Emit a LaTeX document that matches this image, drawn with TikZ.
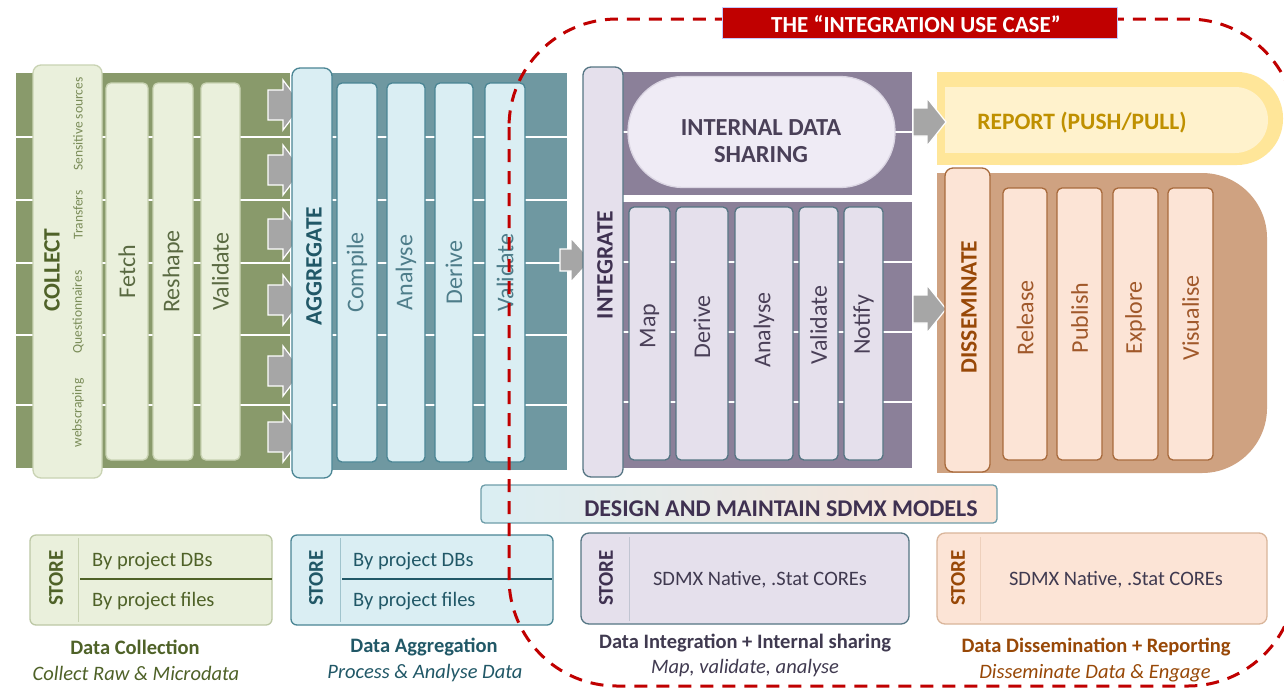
\documentclass[tikz,border=0pt]{standalone}
\usepackage{fontspec}
\setmainfont{Carlito}
\definecolor{gband}{HTML}{899A6B}
\definecolor{gfill}{HTML}{EAF0DC}
\definecolor{gline}{HTML}{C9D3B3}
\definecolor{gtext}{HTML}{4F6228}
\definecolor{gtext2}{HTML}{5A6A42}
\definecolor{gsmall}{HTML}{7A8C58}
\definecolor{tband}{HTML}{6F98A1}
\definecolor{tfill}{HTML}{DAEEF3}
\definecolor{tline}{HTML}{4A8594}
\definecolor{ttext}{HTML}{215867}
\definecolor{ttext2}{HTML}{4E7D8A}
\definecolor{pband}{HTML}{8B8099}
\definecolor{pfill}{HTML}{E5E0EC}
\definecolor{pillc}{HTML}{EFEBF5}
\definecolor{pline}{HTML}{557583}
\definecolor{ptext}{HTML}{3F3151}
\definecolor{ptext2}{HTML}{4A4058}
\definecolor{bband}{HTML}{CFA281}
\definecolor{bfill}{HTML}{FCE4D6}
\definecolor{bline}{HTML}{A86A3C}
\definecolor{btext}{HTML}{984807}
\definecolor{btext2}{HTML}{A0582A}
\definecolor{yout}{HTML}{FFE699}
\definecolor{yin}{HTML}{FFF2CC}
\definecolor{ytext}{HTML}{BF9000}
\definecolor{agray}{HTML}{A6A6A6}
\definecolor{redc}{HTML}{C00000}
\definecolor{dgray}{HTML}{403A50}
\newcommand\myfs[1]{\fontsize{#1}{#1}\selectfont}
\newcommand\garrow[6]{%
  \path[fill=agray, draw=white, line width=1.2pt, line join=miter]
    (#1,#4-#5) -- (#2,#4-#5) -- (#2,#4-#6) -- (#3,#4) -- (#2,#4+#6)
    -- (#2,#4+#5) -- (#1,#4+#5) -- cycle;}
\tikzset{
  bx/.style={rectangle, inner sep=0pt, outer sep=0pt, line width=1.3pt},
  lbl/.style={bx, rounded corners=8pt},
  colbox/.style={bx, rounded corners=5pt},
  vt/.style={rotate=90, inner sep=0pt, font=\myfs{24}},
  vb/.style={rotate=90, inner sep=0pt, font=\bfseries\myfs{23.5}},
  captxt/.style={inner sep=0pt, font=\bfseries\myfs{20.5}},
  capital/.style={inner sep=0pt, font=\itshape\myfs{20.5}},
  stt/.style={inner sep=0pt, font=\myfs{20.5}},
}
\begin{document}
\begin{tikzpicture}[x=1pt,y=-1pt]
\useasboundingbox (0,0) rectangle (1284,689);
\fill[white] (0,0) rectangle (1284,689);

% ---------- bands ----------
\fill[gband] (16,73) rectangle (290,468);
\fill[tband] (325,73) rectangle (567,470);
\fill[pband] (620,72) rectangle (912,195);
\fill[pband] (620,202) rectangle (912,468);
\fill[bband, rounded corners=65pt] (1000,173) -- (1267,173) -- (1267,473) -- (1000,473);
\fill[bband] (937,173) rectangle (1010,473);
\fill[yout, rounded corners=46pt] (1000,72) -- (1283,72) -- (1283,165) -- (1000,165);
\fill[yout] (937,72) rectangle (1010,165);
\fill[yin, rounded corners=33pt] (1000,87) -- (1268,87) -- (1268,153) -- (1000,153);
\fill[yin] (945,87) rectangle (1010,153);

% white separators
\foreach \yy in {137,200,263,335,405}{\draw[white, line width=2.6pt] (16,\yy) -- (567,\yy);}
\foreach \yy in {262,332,402}{\draw[white, line width=2.6pt] (620,\yy) -- (912,\yy);}
\draw[white, line width=2.6pt] (620,132) -- (912,132);

% ---------- COLLECT ----------
\node[lbl, fill=gfill, draw=gline, minimum width=69pt, minimum height=413pt] (collect) at (67.5,271.5) {};
\node[colbox, fill=gfill, draw=gline, minimum width=42pt, minimum height=377pt] (fetch) at (127,271.5) {};
\node[colbox, fill=gfill, draw=gline, minimum width=40pt, minimum height=377pt] (reshape) at (173,271.5) {};
\node[colbox, fill=gfill, draw=gline, minimum width=39pt, minimum height=377pt] (cvalidate) at (220.5,271.5) {};
\node[vb, text=gtext] (tcollect) at (52,270) {COLLECT};
\node[rotate=90, inner sep=0pt, font=\myfs{13.5}, text=gsmall] (tsens) at (78,124) {Sensitive sources};
\node[rotate=90, inner sep=0pt, font=\myfs{13.5}, text=gsmall] (ttrans) at (78,215) {Transfers};
\node[rotate=90, inner sep=0pt, font=\myfs{13.5}, text=gsmall] (tquest) at (78,312) {Questionnaires};
\node[rotate=90, inner sep=0pt, font=\myfs{13.5}, text=gsmall] (twebs) at (78,413) {webscraping};
\node[vt, text=gtext2] (tfetch) at (fetch) {Fetch};
\node[vt, text=gtext2] (treshape) at (reshape) {Reshape};
\node[vt, text=gtext2] (tcvalidate) at (cvalidate) {Validate};

% arrows collect -> aggregate
\foreach \yy in {105,170,234,300,371,437}{\garrow{268}{283}{302}{\yy}{15}{25}}

% ---------- AGGREGATE ----------
\node[lbl, fill=tfill, draw=tline, minimum width=40pt, minimum height=410pt] (aggregate) at (312,273) {};
\node[colbox, fill=tfill, draw=tline, minimum width=40pt, minimum height=379pt] (compile) at (357,272.5) {};
\node[colbox, fill=tfill, draw=tline, minimum width=38pt, minimum height=379pt] (aanalyse) at (406,272.5) {};
\node[colbox, fill=tfill, draw=tline, minimum width=38pt, minimum height=379pt] (aderive) at (454,272.5) {};
\node[colbox, fill=tfill, draw=tline, minimum width=40pt, minimum height=379pt] (avalidate) at (505,272.5) {};
\node[vb, text=ttext] (taggregate) at (314,266) {AGGREGATE};
\node[vt, text=ttext2] (tcompile) at (compile) {Compile};
\node[vt, text=ttext2] (taanalyse) at (aanalyse) {Analyse};
\node[vt, text=ttext2] (taderive) at (aderive) {Derive};
\node[vt, text=ttext2] (tavalidate) at (avalidate) {Validate};

\garrow{560}{571}{591}{260}{11}{22}

% ---------- INTEGRATE ----------
\node[lbl, fill=pfill, draw=pline, minimum width=40pt, minimum height=410pt] (integrate) at (603,272) {};
\node[bx, rounded corners=55pt, fill=pillc, draw=pillc!80!pband, minimum width=267pt, minimum height=111pt] (sharing) at (761.5,132) {};
\node[inner sep=0pt, align=center, font=\bfseries\myfs{24.5}, text=ptext2] (tsharing) at (761,141) {INTERNAL DATA\\[2pt]SHARING};
\node[colbox, fill=pfill, draw=pline, minimum width=41pt, minimum height=253pt] (map) at (649.5,333.5) {};
\node[colbox, fill=pfill, draw=pline, minimum width=52pt, minimum height=253pt] (iderive) at (702,333.5) {};
\node[colbox, fill=pfill, draw=pline, minimum width=58pt, minimum height=253pt] (ianalyse) at (764,333.5) {};
\node[colbox, fill=pfill, draw=pline, minimum width=39pt, minimum height=253pt] (ivalidate) at (818.5,333.5) {};
\node[colbox, fill=pfill, draw=pline, minimum width=39pt, minimum height=253pt] (notify) at (863.5,333.5) {};
\node[vb, text=ptext] (tintegrate) at (605,265) {INTEGRATE};
\node[vt, text=ptext2] (tmap) at (649.5,326) {Map};
\node[vt, text=ptext2] (tiderive) at (702,327) {Derive};
\node[vt, text=ptext2] (tianalyse) at (764,330) {Analyse};
\node[vt, text=ptext2] (tivalidate) at (818.5,325) {Validate};
\node[vt, text=ptext2] (tnotify) at (863.5,325) {Notify};

\garrow{913}{927}{946}{122}{14}{24}
\garrow{913}{927}{946}{309}{14}{24}

% ---------- REPORT ----------
\node[inner sep=0pt, font=\bfseries\myfs{23.5}, text=ytext] (report) at (1082,123) {REPORT (PUSH/PULL)};

% ---------- DISSEMINATE ----------
\node[lbl, fill=bfill, draw=bline, minimum width=45pt, minimum height=304pt] (disseminate) at (967.5,320) {};
\node[colbox, fill=bfill, draw=bline, minimum width=44pt, minimum height=272pt] (release) at (1025,324) {};
\node[colbox, fill=bfill, draw=bline, minimum width=45pt, minimum height=272pt] (publish) at (1079.5,324) {};
\node[colbox, fill=bfill, draw=bline, minimum width=45pt, minimum height=272pt] (explore) at (1135.5,324) {};
\node[colbox, fill=bfill, draw=bline, minimum width=45pt, minimum height=272pt] (visualise) at (1190.5,324) {};
\node[vb, text=btext] (tdisseminate) at (969,307) {DISSEMINATE};
\node[vt, text=btext2] (trelease) at (1025,318) {Release};
\node[vt, text=btext2] (tpublish) at (1079.5,318) {Publish};
\node[vt, text=btext2] (texplore) at (1135.5,318) {Explore};
\node[vt, text=btext2] (tvisualise) at (1190.5,318) {Visualise};

% ---------- DESIGN bar ----------
\node[bx, rounded corners=4pt, left color=tfill, right color=bfill, draw=tline!80!white, minimum width=516pt, minimum height=38pt] (design) at (739,504) {};
\node[inner sep=0pt, font=\bfseries\myfs{24}, text=ptext] (tdesign) at (781,509) {DESIGN AND MAINTAIN SDMX MODELS};

% ---------- STORES ----------
\node[bx, rounded corners=6pt, fill=gfill, draw=gline!80!gband, minimum width=242pt, minimum height=90pt] (store1) at (151,580) {};
\draw[gline, line width=1pt] (78,538) -- (78,622);
\draw[gtext, line width=1.4pt] (80,579) -- (272,579);
\node[vb, font=\bfseries\myfs{21}, text=gtext] (tstore1) at (56,578) {STORE};
\node[stt, anchor=west, text=gtext] (s1a) at (92,561) {By project DBs};
\node[stt, anchor=west, text=gtext] (s1b) at (92,601) {By project files};
\node[captxt, text=gtext] (c1) at (135,647) {Data Collection};
\node[capital, text=gtext] (c1i) at (136,673) {Collect Raw \& Microdata};

\node[bx, rounded corners=6pt, fill=tfill, draw=tline, minimum width=262pt, minimum height=90pt] (store2) at (422,580) {};
\draw[tline!40!tfill, line width=1pt] (340,538) -- (340,622);
\draw[ttext, line width=1.4pt] (342,579) -- (552,579);
\node[vb, font=\bfseries\myfs{21}, text=ttext] (tstore2) at (316,578) {STORE};
\node[stt, anchor=west, text=ttext] (s2a) at (353,561) {By project DBs};
\node[stt, anchor=west, text=ttext] (s2b) at (353,601) {By project files};
\node[captxt, text=ttext] (c2) at (424,647) {Data Aggregation};
\node[capital, text=ttext] (c2i) at (425,673) {Process \& Analyse Data};

\node[bx, rounded corners=8pt, fill=pfill, draw=pline, minimum width=328pt, minimum height=91pt] (store3) at (745,578.5) {};
\draw[pline!25!pfill, line width=1pt] (629,537) -- (629,621);
\node[vb, font=\bfseries\myfs{21}, text=ptext] (tstore3) at (606,578) {STORE};
\node[stt, text=dgray] (s3) at (760,580) {SDMX Native, .Stat COREs};
\node[captxt, text=dgray] (c3) at (745,643) {Data Integration + Internal sharing};
\node[capital, text=dgray] (c3i) at (745,668) {Map, validate, analyse};

\node[bx, rounded corners=8pt, fill=bfill, draw=bband!80!white, minimum width=330pt, minimum height=91pt] (store4) at (1102,578.5) {};
\draw[bband!30!bfill, line width=1pt] (980,537) -- (980,621);
\node[vb, font=\bfseries\myfs{21}, text=btext] (tstore4) at (958,578) {STORE};
\node[stt, text=dgray] (s4) at (1116,580) {SDMX Native, .Stat COREs};
\node[captxt, text=btext] (c4) at (1096,647) {Data Dissemination + Reporting};
\node[capital, text=btext] (c4i) at (1095,673) {Disseminate Data \& Engage};

% ---------- integration use case ----------
\draw[redc, line width=3pt, dash pattern=on 13pt off 9pt, rounded corners=108pt] (509,19) rectangle (1296,686);
\node[bx, fill=redc, draw=tfill!50!blue!40!white, line width=1pt, minimum width=395pt, minimum height=31pt] (usecase) at (919.5,23) {};
\node[inner sep=0pt, font=\bfseries\myfs{23}, text=white] (tusecase) at (916,24) {THE “INTEGRATION USE CASE”};
\end{tikzpicture}
\end{document}
